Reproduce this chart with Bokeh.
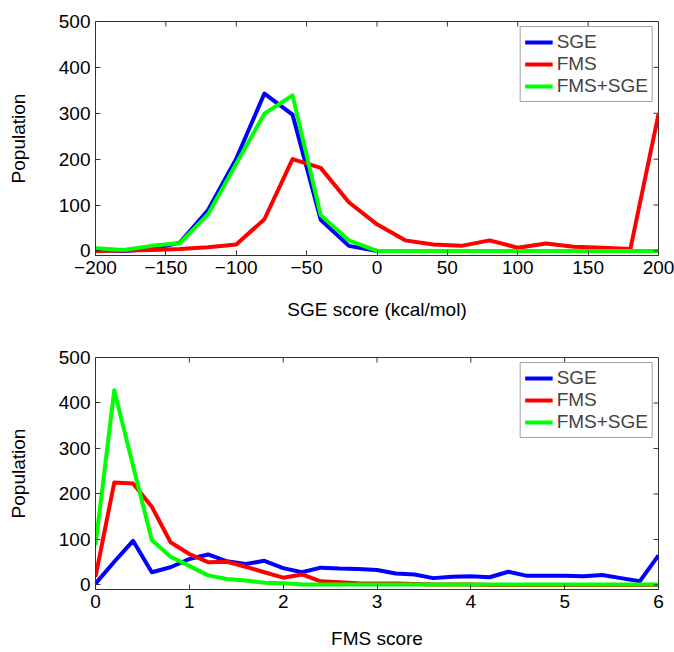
import math
from bokeh.plotting import figure
from bokeh.models import FixedTicker, Range1d, Legend
from bokeh.layouts import column
from bokeh.embed import file_html
from bokeh.resources import INLINE

# ---- data: top panel (SGE score histogram) ----
sge_x = [-200, -180, -160, -140, -120, -100, -80, -60, -40, -20, 0,
         20, 40, 60, 80, 100, 120, 140, 160, 180, 200]
top_sge = [2, 0, 4, 18, 89, 201, 343, 297, 68, 11, 0,
           0, 0, 0, 0, 0, 0, 0, 0, 0, 0]
top_fms = [0, 1, 2, 4, 8, 14, 69, 200, 181, 106, 58,
           23, 14, 11, 23, 7, 16, 9, 7, 4, 298]
top_both = [6, 2, 11, 17, 80, 190, 299, 339, 78, 23, 0,
            0, 0, 0, 0, 0, 0, 0, 0, 0, 0]

# ---- data: bottom panel (FMS score histogram) ----
fms_x = [0.0, 0.2, 0.4, 0.6, 0.8, 1.0, 1.2, 1.4, 1.6, 1.8, 2.0,
         2.2, 2.4, 2.6, 2.8, 3.0, 3.2, 3.4, 3.6, 3.8, 4.0,
         4.2, 4.4, 4.6, 4.8, 5.0, 5.2, 5.4, 5.6, 5.8, 6.0]
bot_sge = [3, 51, 97, 28, 39, 57, 67, 52, 46, 53, 37,
           28, 38, 36, 35, 33, 25, 23, 15, 18, 19,
           17, 29, 20, 20, 20, 19, 22, 15, 8, 65]
bot_fms = [18, 225, 223, 172, 94, 68, 50, 51, 40, 28, 16,
           23, 8, 6, 4, 3, 3, 2, 1, 1, 1,
           0, 0, 0, 0, 0, 0, 0, 0, 0, 0]
bot_both = [88, 428, 262, 99, 62, 42, 21, 13, 10, 5, 4,
            1, 1, 1, 1, 1, 1, 1, 1, 1, 1,
            1, 1, 1, 1, 1, 1, 1, 1, 1, 1]

series_names = ["SGE", "FMS", "FMS+SGE"]
series_colors = ["#0000ff", "#ff0000", "#00ff00"]

top_xticks = [-200, -150, -100, -50, 0, 50, 100, 150, 200]
top_xtick_labels = ["\u2212200", "\u2212150", "\u2212100", "\u221250", "0", "50", "100", "150", "200"]
bot_xticks = [0, 1, 2, 3, 4, 5, 6]
yticks = [0, 100, 200, 300, 400, 500]
y_range = (-10, 500)

FONT = "Liberation Sans"
FS = "19px"
AX_COLOR = "#333333"
TICK_LEN = 5


def style_axis(ax, ticks, overrides=None):
    ax.ticker = FixedTicker(ticks=ticks)
    ax.minor_tick_line_color = None
    ax.major_tick_in = TICK_LEN
    ax.major_tick_out = 0
    ax.axis_line_color = AX_COLOR
    ax.major_tick_line_color = AX_COLOR
    ax.major_label_text_font = FONT
    ax.major_label_text_color = "black"
    ax.major_label_text_font_size = FS
    ax.major_label_standoff = 5
    ax.axis_label_text_font = FONT
    ax.axis_label_text_font_style = "normal"
    ax.axis_label_text_font_size = FS
    ax.axis_label_text_color = "black"
    if overrides:
        ax.major_label_overrides = overrides


def make_panel(xs, ys_list, xr, xticks, xlabel, height, b_top, b_bottom,
               xlabel_standoff, overrides=None):
    p = figure(width=674, height=height, output_backend="svg", toolbar_location=None,
               x_range=Range1d(*xr), y_range=Range1d(*y_range),
               min_border_left=95, min_border_right=16,
               min_border_top=b_top, min_border_bottom=b_bottom,
               background_fill_color="white", border_fill_color="white")
    p.grid.visible = False
    p.outline_line_color = AX_COLOR
    items = []
    for ys, name, col in zip(ys_list, series_names, series_colors):
        r = p.line(xs, ys, line_color=col, line_width=4, line_join="round")
        items.append((name, [r]))
    style_axis(p.xaxis[0], xticks, overrides)
    p.xaxis[0].axis_label = xlabel
    p.xaxis[0].axis_label_standoff = xlabel_standoff
    style_axis(p.yaxis[0], yticks)
    p.yaxis[0].axis_label = "Population"
    p.yaxis[0].axis_label_standoff = 27

    # inward tick marks on the top and right edges of the box
    p.ray(x=xticks, y=[y_range[1]] * len(xticks), length=TICK_LEN, length_units="screen",
          angle=-math.pi / 2, line_color=AX_COLOR, line_width=1)
    p.ray(x=[xr[1]] * len(yticks), y=yticks, length=TICK_LEN, length_units="screen",
          angle=math.pi, line_color=AX_COLOR, line_width=1)

    leg = Legend(items=items, location="top_right")
    leg.label_text_font = FONT
    leg.label_text_font_size = FS
    leg.label_standoff = 4
    leg.glyph_width = 28
    leg.glyph_height = 22
    leg.label_height = 22
    leg.spacing = 0
    leg.padding = 4
    leg.margin = 5
    leg.border_line_color = "#444444"
    leg.border_line_width = 1
    leg.background_fill_color = "white"
    leg.background_fill_alpha = 1.0
    p.add_layout(leg)
    return p


top = make_panel(sge_x, [top_sge, top_fms, top_both], (-200, 200), top_xticks,
                 "SGE score (kcal/mol)", 337, 21, 82, 22,
                 overrides={t: s for t, s in zip(top_xticks, top_xtick_labels)})
bot = make_panel(fms_x, [bot_sge, bot_fms, bot_both], (0, 6), bot_xticks,
                 "FMS score", 315, 20, 63, 17)

layout = column(top, bot, spacing=0)
open("out.html", "w").write(file_html(layout, INLINE))
